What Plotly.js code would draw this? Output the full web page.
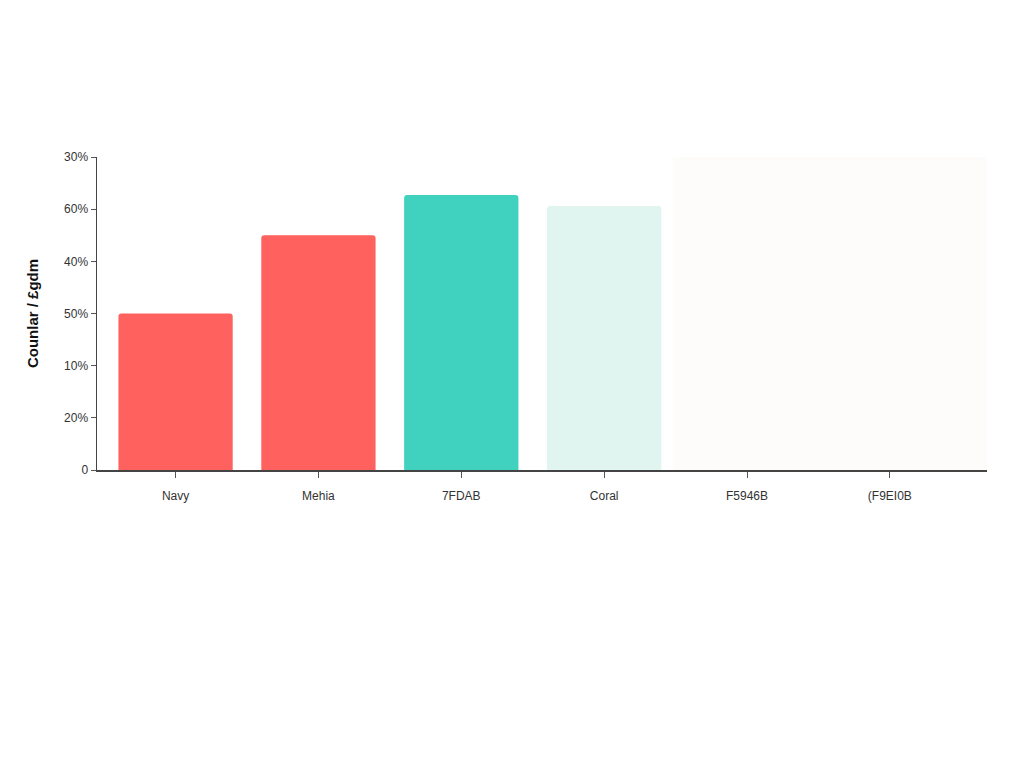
<!DOCTYPE html>
<html>
<head>
<meta charset="utf-8">
<script src="https://cdn.plot.ly/plotly-3.0.1.min.js"></script>
<style>
  html, body { margin: 0; padding: 0; background: #ffffff; }
  #bar-plot { width: 1024px; height: 768px; }
</style>
</head>
<body>
<div id="bar-plot"></div>
<script>
// Categories and values
var categories = ['Navy', 'Mehia', '7FDAB', 'Coral', 'F5946B', '(F9EI0B'];
var values = [30, 45, 52.7, 50.6, 0, 0];
var barColors = ['#FF625E', '#FF625E', '#40D1BF', '#E0F5F0', '#FEFCF9', '#FEFCF9'];

// y tick labels exactly as printed (order bottom -> top)
var yTickVals = [0, 10, 20, 30, 40, 50, 60];
var yTickText = ['0', '20%', '10%', '50%', '40%', '60%', '30%'];

function init_bar_plot(){
    var trace1 = {
      x: categories,
      y: values,
      type: 'bar',
      marker: {
        color: barColors,
        cornerradius: 3
      },
      hoverinfo: 'skip',
      showlegend: false
    };

    var data = [trace1];

    var layout = {
        width: 1024,
        height: 768,
        margin: {l: 97, r: 37, t: 157, b: 298},
        paper_bgcolor: '#ffffff',
        plot_bgcolor: '#ffffff',
        font: {family: 'Liberation Sans, Arial, sans-serif', size: 12, color: '#333333'},
        bargap: 0.2,
        showlegend: false,
        shapes: [{
            // faint backdrop behind the two empty categories
            type: 'rect', xref: 'x', yref: 'y', layer: 'below',
            x0: 3.48, x1: 5.68, y0: 0, y1: 60,
            fillcolor: '#FEFCFA', line: {width: 0}
        }],
        xaxis: {
            type: 'category',
            range: [-0.55, 5.68],     // pushes the categories a bit to the left like the original
            showline: true,
            linecolor: '#444444',
            linewidth: 1.5,
            ticks: 'outside',
            ticklen: 6,
            tickcolor: '#555555',
            ticklabelstandoff: 8,
            showgrid: false,
            zeroline: false,
            tickfont: {size: 12, color: '#333333'}
        },
        yaxis: {
            range: [0, 60],
            tickvals: yTickVals,
            ticktext: yTickText,
            showline: true,
            linecolor: '#444444',
            linewidth: 1.5,
            ticks: 'outside',
            ticklen: 5,
            tickcolor: '#555555',
            showgrid: false,
            zeroline: false,
            tickfont: {size: 12, color: '#333333'},
            title: {
                text: '<b>Counlar / £gdm</b>',
                font: {size: 15, color: '#111111'},
                standoff: 22
            }
        }
    };

    var additional_param = {
        displayModeBar: false,
        staticPlot: true
    };

    var barPlotDiv = document.getElementById('bar-plot');
    if(barPlotDiv)
    {
        Plotly.newPlot('bar-plot', data, layout, additional_param);
    }
};

init_bar_plot();
</script>
</body>
</html>
